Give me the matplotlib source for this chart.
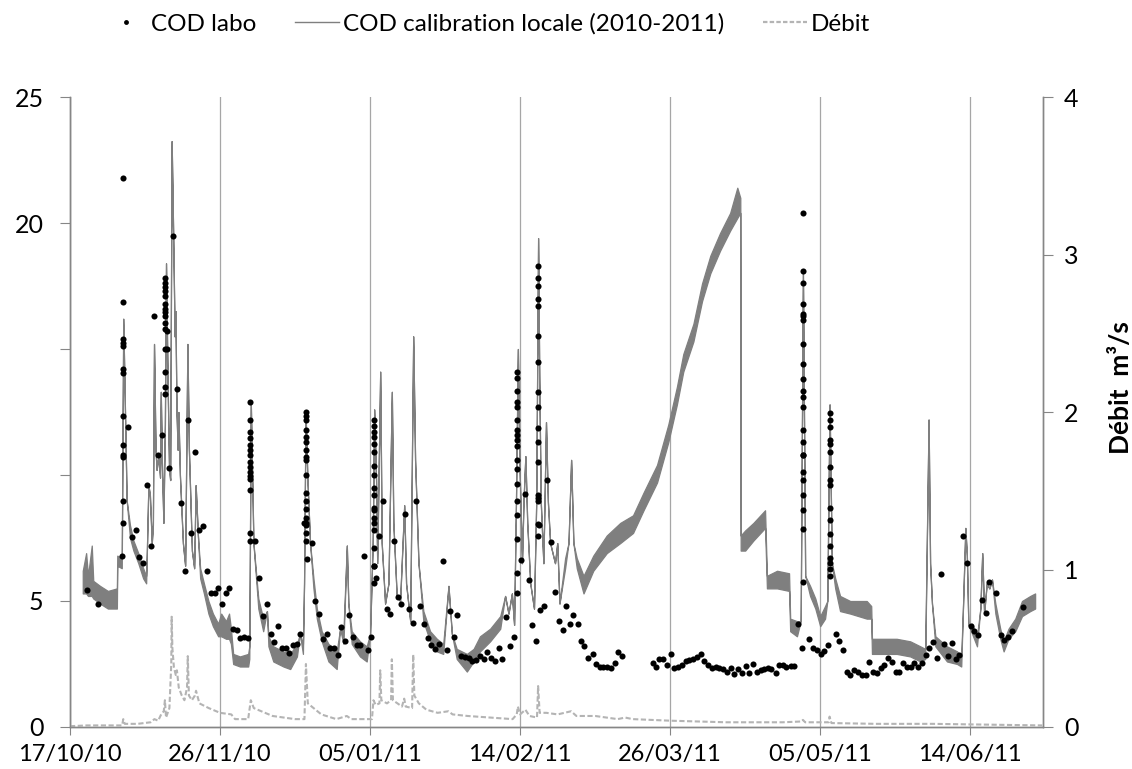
import matplotlib
matplotlib.use("Agg")
import matplotlib.pyplot as plt
import matplotlib.dates as mdates
from matplotlib.lines import Line2D
from datetime import datetime
import numpy as np

plt.rcParams['font.family'] = ['Lato', 'DejaVu Sans']

# ---------------- data (days since 17/10/2010) ----------------
start_date = datetime(2010, 10, 17)
tick_days = [0, 40, 80, 120, 160, 200, 240]
x_max_day = 259.4

# COD calibration locale: (day, low, high) of the noisy trace
cod_line = [
    (3.4, 5.3, 6.2), (4.3, 5.3, 6.9), (4.8, 5.2, 6.0), (5.8, 5.2, 7.2), (6.2, 5.1, 5.8),
    (8.0, 4.9, 5.6), (10.1, 4.7, 5.4), (12.5, 4.7, 5.5), (12.6, 6.4, 6.8), (13.8, 6.3, 6.7),
    (14.2, 16.2, 16.2), (14.7, 12.2, 12.2), (15.1, 9.0, 9.0), (16.0, 7.5, 8.0), (16.9, 7.0, 7.4),
    (18.2, 6.5, 6.9), (19.5, 5.9, 6.3), (20.3, 5.7, 6.0), (20.5, 7.0, 7.0), (20.9, 9.6, 9.6),
    (21.3, 9.2, 9.2), (21.8, 7.3, 7.3), (22.1, 8.0, 8.0), (22.4, 15.2, 15.2), (22.8, 11.0, 11.0),
    (23.1, 10.2, 10.2), (23.6, 10.8, 10.8), (24.0, 9.9, 9.9), (24.2, 13.3, 13.3), (24.5, 10.5, 10.5),
    (24.9, 8.1, 8.1), (25.3, 12.0, 12.0), (25.6, 18.4, 18.4), (26.0, 13.9, 13.9), (26.4, 10.3, 10.3),
    (26.7, 9.8, 9.8), (27.1, 23.25, 23.25), (27.5, 19.6, 19.6), (27.9, 15.5, 15.5), (28.1, 16.5, 16.5),
    (28.4, 12.5, 12.5), (28.7, 11.0, 11.0), (28.9, 12.5, 12.5), (29.3, 10.0, 10.0), (30.1, 7.3, 7.3),
    (30.7, 6.4, 6.4), (31.3, 15.2, 15.2), (31.7, 11.0, 11.0), (32.5, 7.0, 7.0), (33.1, 6.3, 6.3),
    (33.5, 9.6, 9.6), (34.1, 7.6, 7.6), (34.7, 5.9, 6.3), (35.7, 5.3, 5.7), (36.9, 4.5, 5.0),
    (38.1, 4.0, 4.5), (39.5, 3.6, 4.1), (40.3, 3.6, 4.5), (41.6, 3.5, 4.2), (42.4, 3.5, 4.5),
    (42.9, 3.3, 3.9), (43.5, 2.5, 2.9), (45.3, 2.4, 2.8), (47.5, 2.4, 2.9), (47.8, 2.7, 3.2),
    (48.2, 12.9, 12.9), (48.9, 7.3, 7.3), (50.2, 4.7, 5.1), (51.5, 3.8, 4.3), (52.5, 4.6, 4.6),
    (52.9, 3.2, 3.6), (54.2, 2.6, 3.2), (56.9, 2.4, 3.0), (58.7, 2.3, 2.9), (60.5, 2.8, 3.3),
    (61.3, 3.7, 3.7), (62.1, 2.9, 3.3), (62.4, 5.7, 5.7), (62.8, 12.5, 12.5), (63.3, 9.8, 9.8),
    (64.0, 7.3, 7.3), (64.9, 5.5, 5.9), (65.8, 4.3, 4.7), (67.1, 3.4, 3.8), (68.9, 2.6, 3.3),
    (71.1, 2.3, 3.0), (72.0, 3.9, 3.9), (72.9, 3.3, 3.8), (73.8, 7.2, 7.2), (74.2, 4.9, 4.9),
    (75.1, 3.3, 3.8), (77.3, 2.8, 3.4), (79.1, 2.6, 3.2), (80.0, 3.7, 3.7), (80.7, 7.3, 7.3),
    (81.1, 12.6, 12.6), (81.6, 9.8, 9.8), (81.9, 6.5, 6.5), (82.7, 14.1, 14.1), (83.1, 7.3, 7.3),
    (84.0, 4.9, 4.9), (84.9, 5.7, 5.7), (85.8, 13.3, 13.3), (86.2, 8.1, 8.1), (87.1, 5.2, 5.2),
    (88.0, 5.0, 5.0), (89.1, 8.8, 8.8), (89.6, 5.7, 5.7), (90.7, 4.2, 4.2), (91.5, 15.5, 15.5),
    (92.0, 10.6, 10.6), (92.9, 6.5, 6.5), (94.2, 4.2, 4.6), (96.0, 3.4, 3.8), (97.8, 3.0, 3.5),
    (99.5, 2.9, 3.3), (100.9, 5.6, 5.6), (101.8, 3.7, 3.7), (103.1, 2.7, 3.1), (105.8, 2.2, 2.9),
    (107.6, 2.6, 3.1), (109.3, 3.0, 3.6), (112.0, 3.4, 3.9), (114.7, 3.9, 4.4), (116.0, 5.2, 5.2),
    (116.9, 4.5, 4.5), (117.8, 5.3, 5.3), (118.4, 4.05, 4.05), (118.9, 8.95, 8.95), (119.4, 15.0, 15.0),
    (119.8, 10.6, 10.6), (120.5, 6.5, 6.5), (120.9, 8.95, 8.95), (121.4, 10.75, 10.75), (121.9, 8.1, 8.1),
    (122.7, 5.7, 5.7), (123.7, 4.7, 4.7), (124.3, 8.95, 8.95), (124.8, 19.4, 19.4), (125.1, 13.9, 13.9),
    (125.5, 8.95, 8.95), (126.2, 6.5, 6.5), (126.9, 12.1, 12.1), (127.4, 8.95, 8.95), (128.0, 7.3, 7.3),
    (129.3, 6.5, 6.5), (129.9, 7.3, 7.3), (130.5, 4.9, 4.9), (132.0, 6.3, 6.7), (132.9, 7.3, 7.3),
    (133.6, 10.6, 10.6), (134.2, 7.3, 7.3), (135.1, 6.3, 6.7), (136.9, 5.3, 6.0), (139.5, 6.2, 6.8),
    (143.1, 6.9, 7.6), (146.7, 7.3, 8.1), (150.1, 7.7, 8.4), (152.9, 8.6, 9.3), (156.5, 9.7, 10.4),
    (159.5, 11.3, 12.0), (161.8, 12.8, 13.5), (163.5, 14.1, 14.8), (166.2, 15.3, 16.0), (168.5, 16.9, 17.6),
    (170.7, 18.0, 18.7), (173.3, 18.9, 19.6), (176.0, 19.7, 20.4), (177.9, 20.2, 21.4), (178.7, 20.4, 21.0),
    (178.8, 7.0, 7.6), (180.0, 7.0, 7.8), (182.2, 7.4, 8.1), (185.3, 7.9, 8.6), (185.8, 5.5, 6.0),
    (188.5, 5.5, 6.2), (191.7, 5.4, 6.1), (192.0, 3.8, 4.3), (193.8, 3.6, 4.2), (194.8, 4.2, 4.2),
    (195.4, 18.0, 18.0), (196.0, 6.0, 6.0), (197.3, 5.2, 5.6), (198.7, 4.7, 5.1), (200.0, 4.0, 4.4),
    (201.3, 4.3, 4.8), (201.9, 5.0, 5.0), (202.5, 12.8, 12.8), (203.1, 6.5, 6.5), (204.0, 5.5, 5.9),
    (205.3, 4.6, 5.2), (208.0, 4.5, 5.0), (210.2, 4.4, 5.0), (212.4, 4.3, 5.0), (213.6, 4.3, 4.8),
    (213.8, 2.9, 3.5), (216.9, 2.9, 3.5), (220.4, 2.9, 3.5), (224.0, 2.8, 3.4), (226.7, 2.6, 3.2),
    (228.0, 2.7, 3.1), (228.9, 12.2, 12.2), (229.3, 6.5, 6.5), (229.8, 4.9, 4.9), (230.7, 3.2, 3.6),
    (233.8, 2.6, 3.2), (236.5, 2.5, 3.0), (237.6, 2.4, 2.8), (238.1, 4.9, 4.9), (238.7, 7.9, 7.9),
    (239.1, 6.8, 6.8), (239.5, 4.05, 4.05), (240.5, 3.7, 4.1), (241.8, 3.2, 3.6), (242.7, 4.7, 4.7),
    (243.2, 6.9, 6.9), (243.7, 4.5, 4.5), (244.4, 5.7, 5.7), (245.1, 5.5, 5.5), (245.8, 5.85, 5.85),
    (246.7, 4.5, 4.9), (248.0, 3.5, 3.9), (248.9, 3.0, 3.4), (250.2, 3.5, 3.9), (252.0, 3.8, 4.3),
    (253.8, 4.4, 5.0), (256.0, 4.6, 5.2), (257.3, 4.7, 5.3),
]

# COD labo samples: (day, [values])
cod_labo = [
    (4.5, [5.44]), (7.5, [4.87]),
    (13.9, [6.8]),
    (14.2, [21.8, 16.85, 15.4, 15.25, 15.1, 14.2, 14.05, 12.35, 11.2, 10.8, 10.7, 8.95, 8.1]),
    (15.5, [11.9]), (16.5, [7.55]), (17.6, [7.8]), (18.5, [6.73]), (19.5, [6.5]), (20.6, [9.6]),
    (21.5, [7.2]), (22.5, [16.3]), (23.5, [10.8]), (24.5, [11.6]),
    (25.3, [17.8, 17.6, 17.45, 17.3, 17.1, 16.8, 16.6, 16.45, 16.3, 16.05, 15.8, 15.0, 14.1, 13.5, 13.2]),
    (25.8, [15.7, 15.0]), (26.5, [10.26]), (27.5, [19.5]), (28.5, [13.4]), (29.5, [8.9]),
    (30.6, [6.2]), (31.5, [12.2]), (32.2, [7.7]), (33.4, [10.9]), (34.5, [7.8]), (35.5, [7.97]),
    (36.5, [6.2]), (37.5, [5.3]), (38.6, [5.3]), (39.5, [5.5]), (40.5, [4.9]), (41.5, [5.3]),
    (42.5, [5.5]), (43.5, [3.9]), (44.5, [3.84]), (45.4, [3.53]), (46.4, [3.56]), (47.5, [3.53]),
    (48.0, [12.9, 12.2, 11.7, 11.45, 11.2, 11.0, 10.8, 10.5, 10.3, 10.1, 9.95, 9.85, 9.4, 7.7, 7.4]),
    (49.4, [7.4]), (50.3, [5.9]), (51.4, [4.4]), (52.5, [4.9]), (53.5, [3.7]), (54.5, [3.37]),
    (55.5, [4.0]), (56.5, [3.15]), (57.5, [3.15]), (58.5, [2.94]), (59.5, [3.25]), (60.5, [3.3]),
    (61.4, [3.7]), (62.5, [8.1]),
    (62.9, [12.5, 12.35, 12.2, 11.8, 11.5, 11.3, 11.0, 10.7, 10.6, 10.0, 9.3, 8.95, 8.65, 8.3, 8.1, 8.0, 7.7, 7.4]),
    (63.1, [6.67]), (64.5, [7.3]), (65.4, [5.0]), (66.4, [4.5]), (67.4, [3.5]), (68.5, [3.7]),
    (69.4, [3.15]), (70.5, [3.14]), (71.4, [2.86]), (72.3, [3.97]), (73.4, [3.43]), (74.5, [4.46]),
    (75.4, [3.56]), (76.5, [3.27]), (77.4, [3.24]), (78.5, [6.8]), (79.4, [3.04]), (80.3, [3.56]),
    (81.1, [12.2, 11.96, 11.7, 11.5, 11.25, 10.9, 10.35, 10.0, 9.5, 9.2, 8.7, 8.6, 8.3, 8.1, 7.8, 7.1, 6.4, 6.4, 5.7]),
    (81.5, [5.9]), (82.4, [7.57]), (83.5, [8.95]), (84.5, [4.67]), (85.4, [4.5]), (86.4, [7.37]),
    (87.4, [5.15]), (88.3, [4.9]), (89.3, [8.45]), (90.4, [4.7]), (91.4, [4.13]), (92.3, [8.95]),
    (93.3, [4.8]), (94.3, [4.1]), (95.4, [3.53]), (96.3, [3.25]), (97.3, [3.1]), (98.4, [3.3]),
    (99.4, [6.6]), (100.5, [3.04]), (101.3, [4.6]), (102.4, [3.56]), (103.3, [4.46]), (104.3, [2.8]),
    (105.3, [2.78]), (106.3, [2.75]), (107.3, [2.63]), (108.3, [2.66]), (109.3, [2.8]), (110.3, [2.7]),
    (111.3, [2.96]), (112.3, [2.75]), (113.3, [2.6]), (114.3, [3.12]), (115.3, [2.68]), (116.3, [4.38]),
    (117.3, [3.2]), (118.3, [3.56]),
    (119.1, [14.1, 13.85, 13.35, 12.9, 12.7, 12.2, 11.8, 11.6, 11.4, 11.15, 10.6, 10.25, 9.65, 8.95, 8.4, 7.45, 6.1, 5.3]),
    (120.3, [6.63]), (121.3, [9.23]), (122.3, [5.85]), (123.3, [4.05]), (124.3, [3.4]),
    (124.7, [18.3, 17.8, 17.5, 17.0, 16.7, 15.5, 14.5, 13.3, 12.7, 11.85, 11.3, 10.5, 9.2, 9.1, 8.95, 8.05, 7.57]),
    (125.1, [8.0]), (125.3, [4.66]), (126.3, [4.8]), (127.3, [9.8]), (128.3, [7.35]), (129.3, [5.36]),
    (130.3, [4.2]), (131.3, [3.84]), (132.3, [4.8]), (133.3, [4.08]), (134.2, [4.44]), (135.3, [4.08]),
    (136.3, [3.4]), (137.1, [3.2]), (138.2, [2.73]), (139.3, [2.9]), (140.3, [2.5]), (141.3, [2.37]),
    (142.2, [2.37]), (143.2, [2.39]), (144.3, [2.35]), (145.3, [2.55]), (146.2, [2.96]), (147.2, [2.8]),
    (155.3, [2.55]), (156.2, [2.37]), (157.1, [2.7]), (158.2, [2.7]), (159.2, [2.47]), (160.3, [2.88]),
    (161.1, [2.34]), (162.2, [2.37]), (163.2, [2.47]), (164.2, [2.61]), (165.1, [2.66]), (166.1, [2.71]),
    (167.1, [2.78]), (168.1, [2.88]), (169.1, [2.63]), (170.1, [2.45]), (171.1, [2.34]), (172.1, [2.37]),
    (173.1, [2.34]), (174.1, [2.29]), (175.1, [2.17]), (176.1, [2.34]), (177.1, [2.12]), (178.1, [2.29]),
    (179.2, [2.14]), (180.2, [2.42]), (181.1, [2.14]), (182.1, [2.5]), (183.1, [2.17]), (184.1, [2.25]),
    (185.1, [2.3]), (186.1, [2.34]), (187.0, [2.29]), (188.1, [2.14]), (189.1, [2.47]), (190.1, [2.47]),
    (191.0, [2.39]), (192.1, [2.42]), (193.1, [2.42]), (194.1, [4.08]), (195.1, [3.15]),
    (195.4, [20.4, 18.1, 17.6, 16.8, 16.4, 16.3, 16.15, 15.2, 14.4, 13.8, 13.35, 13.1, 12.7, 11.8, 11.3,
             10.8, 10.8, 10.1, 9.8, 9.2, 8.6, 7.86, 5.77]),
    (197.1, [3.5]), (198.1, [3.15]), (199.2, [3.07]), (200.1, [2.88]), (201.1, [3.0]), (202.2, [3.27]),
    (202.5, [12.45, 12.2, 11.9, 11.4, 11.25, 10.9, 10.3, 9.8, 9.6, 8.7, 8.2, 7.65, 7.2, 6.7, 6.5, 6.26, 6.0]),
    (204.3, [3.7]), (205.1, [3.4]), (206.1, [3.07]), (207.1, [2.2]), (208.0, [2.06]), (209.1, [2.25]),
    (210.2, [2.17]), (211.1, [2.06]), (212.1, [2.06]), (213.1, [2.58]), (214.1, [2.2]), (215.1, [2.14]),
    (216.1, [2.34]), (217.1, [2.45]), (218.1, [2.75]), (219.1, [2.58]), (220.1, [2.17]), (221.1, [2.2]),
    (222.1, [2.52]), (223.1, [2.37]), (224.1, [2.39]), (225.1, [2.53]), (226.1, [2.37]), (227.1, [2.53]),
    (228.2, [2.86]), (229.1, [3.12]), (230.1, [3.37]), (231.1, [2.75]), (232.1, [6.06]), (233.1, [3.3]),
    (234.1, [2.83]), (235.1, [3.32]), (236.1, [2.71]), (237.1, [2.86]), (238.1, [7.57]), (239.2, [6.5]),
    (240.1, [4.0]), (241.1, [3.79]), (242.1, [3.64]), (243.1, [5.02]), (244.1, [4.51]), (245.1, [5.75]),
    (247.0, [5.3]), (248.1, [3.64]), (249.1, [3.45]), (250.1, [3.56]), (251.1, [3.81]), (254.1, [4.75]),
]

# Débit (m3/s): (day, value)
debit = [
    (0.0, 0.005), (4.5, 0.01), (13.9, 0.01), (14.2, 0.05), (14.6, 0.02), (18.0, 0.02), (21.5, 0.03),
    (22.5, 0.05), (23.5, 0.04), (24.3, 0.08), (25.0, 0.10), (25.3, 0.17), (25.6, 0.06), (26.5, 0.12),
    (27.0, 0.40), (27.1, 0.70), (27.3, 0.50), (27.7, 0.38), (28.2, 0.33), (28.5, 0.36), (29.0, 0.25),
    (29.8, 0.20), (30.5, 0.17), (31.2, 0.25), (31.4, 0.45), (31.7, 0.20), (32.5, 0.17), (33.3, 0.20),
    (33.6, 0.23), (34.5, 0.15), (37.0, 0.12), (40.0, 0.09), (43.0, 0.08), (44.0, 0.05), (47.5, 0.05),
    (48.2, 0.17), (49.0, 0.12), (54.0, 0.07), (60.0, 0.05), (62.5, 0.05), (62.9, 0.40), (63.4, 0.15),
    (67.0, 0.08), (71.0, 0.05), (73.8, 0.07), (75.0, 0.05), (80.5, 0.05), (80.9, 0.17), (81.5, 0.14),
    (82.5, 0.15), (82.7, 0.36), (83.0, 0.17), (84.5, 0.15), (85.6, 0.17), (85.8, 0.43), (86.1, 0.17),
    (88.5, 0.13), (89.1, 0.18), (89.5, 0.13), (91.2, 0.12), (91.5, 0.46), (91.8, 0.20), (93.0, 0.15),
    (95.0, 0.11), (98.0, 0.09), (100.9, 0.10), (102.0, 0.08), (106.0, 0.07), (112.0, 0.06),
    (118.0, 0.05), (119.1, 0.08), (119.4, 0.13), (120.0, 0.08), (121.4, 0.11), (122.5, 0.07),
    (124.5, 0.06), (124.8, 0.26), (125.2, 0.09), (127.0, 0.09), (130.0, 0.08), (133.6, 0.10),
    (135.0, 0.07), (140.0, 0.07), (146.0, 0.05), (148.0, 0.06), (150.0, 0.05), (160.0, 0.04),
    (175.0, 0.03), (190.0, 0.03), (195.0, 0.035), (195.4, 0.045), (196.0, 0.03), (202.3, 0.03),
    (202.5, 0.066), (203.0, 0.025), (215.0, 0.02), (230.0, 0.02), (259.2, 0.01),
]

left_ticks = [0, 5, 10, 15, 20, 25]
left_tick_labels = ['0', '5', '', '', '20', '25']
right_ticks = [0, 1, 2, 3, 4]

# ---------------- drawing ----------------
base = mdates.date2num(start_date)
W, H = 1132, 769
fig = plt.figure(figsize=(W / 100, H / 100), dpi=100)
ax = fig.add_axes([70 / W, 42 / H, 973 / W, 630 / H])
ax2 = ax.twinx()

axis_grey = '#868686'
line_grey = '#7f7f7f'
debit_grey = '#b4b4b4'

cx = base + np.array([p[0] for p in cod_line])
clo = np.array([p[1] for p in cod_line])
chi = np.array([p[2] for p in cod_line])
ax.fill_between(cx, clo, chi, facecolor=line_grey, edgecolor=line_grey, lw=0.9, zorder=3)

lx, ly = [], []
for d, vals in cod_labo:
    for v in vals:
        lx.append(base + d)
        ly.append(v)
ax.plot(lx, ly, 'o', color='black', ms=4.4, mew=0, zorder=5)

dx = base + np.array([p[0] for p in debit])
dy = np.array([p[1] for p in debit])
ax2.plot(dx, dy, color=debit_grey, lw=1.5, ls=(0, (2.5, 1.2)), zorder=2)

ax.set_xlim(base, base + x_max_day)
ax.set_ylim(0, 25)
ax2.set_ylim(0, 4)
ax.set_xticks([base + d for d in tick_days])
ax.xaxis.set_major_formatter(mdates.DateFormatter('%d/%m/%y'))
ax.set_yticks(left_ticks)
ax.set_yticklabels(left_tick_labels)
ax2.set_yticks(right_ticks)
ax.grid(axis='x', color='#a6a6a6', lw=0.9, zorder=0)

for a in (ax, ax2):
    a.spines['top'].set_visible(False)
    for s in ('left', 'right', 'bottom'):
        a.spines[s].set_color(axis_grey)
        a.spines[s].set_linewidth(1.0)
ax.tick_params(axis='x', direction='out', length=6, color=axis_grey, labelsize=17, pad=6)
ax.tick_params(axis='y', direction='out', length=7, color=axis_grey, labelsize=18, pad=12)
ax2.tick_params(axis='y', direction='out', length=7, color=axis_grey, labelsize=18, pad=8)

fig.text(1121 / W, 1 - 388 / H, 'Débit  m³/s', rotation=90, ha='center', va='center',
         fontsize=19, fontweight='bold')

handles = [
    Line2D([], [], marker='o', ls='', color='black', ms=3.5, mew=0),
    Line2D([], [], color=line_grey, lw=1.0),
    Line2D([], [], color=debit_grey, lw=1.6, ls=(0, (2.0, 1.0))),
]
labels = ['COD labo', 'COD calibration locale (2010-2011)', 'Débit']
fig.legend(handles, labels, loc='center', bbox_to_anchor=(0.43, 1 - 24 / H), ncol=3,
           frameon=False, fontsize=17.5, handlelength=1.8, handletextpad=0.15, columnspacing=1.6)

fig.savefig('out.png', dpi=100)
